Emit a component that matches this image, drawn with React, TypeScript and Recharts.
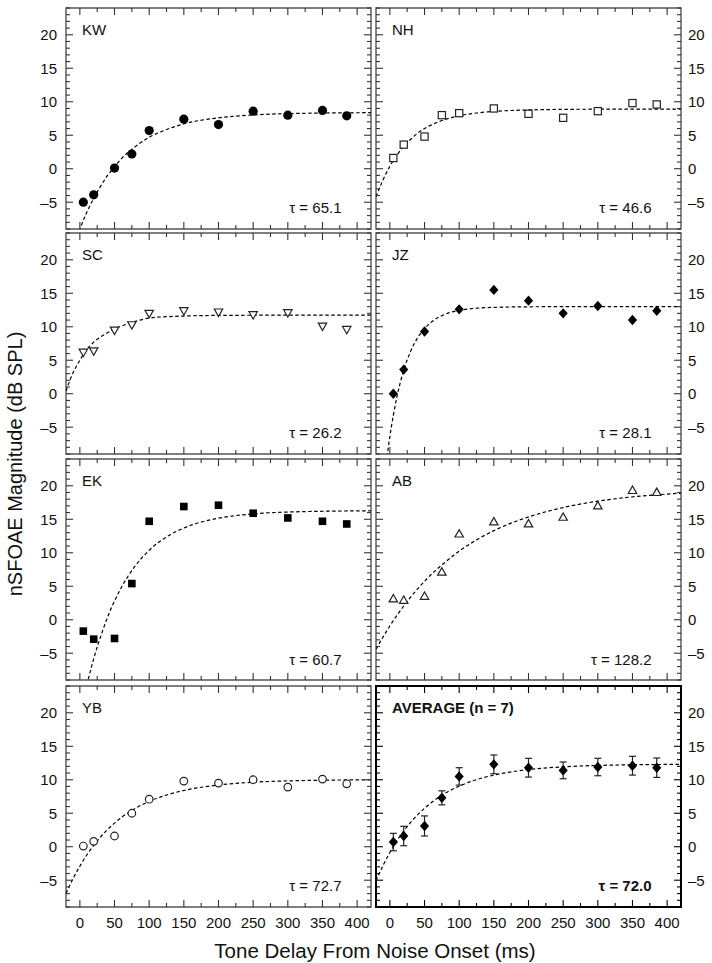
import React from "react";
import {
  ComposedChart,
  Line,
  Scatter,
  XAxis,
  YAxis,
  ErrorBar,
  ReferenceArea,
} from "recharts";

// tone delays (ms) at which nSFOAE was measured
const DELAY_MS = [5, 20, 50, 75, 100, 150, 200, 250, 300, 350, 385];

// magnitudes (dB SPL), one array per subject
const KW = [-5.0, -3.9, 0.1, 2.2, 5.7, 7.4, 6.6, 8.6, 8.0, 8.7, 7.9];
const NH = [1.6, 3.6, 4.8, 8.0, 8.3, 9.0, 8.2, 7.6, 8.6, 9.8, 9.6];
const SC = [6.2, 6.4, 9.5, 10.3, 12.0, 12.4, 12.2, 11.8, 12.1, 10.1, 9.6];
const JZ = [0.0, 3.6, 9.3, 12.6, 15.5, 13.9, 12.0, 13.1, 11.0, 12.4];
const JZ_DELAY_MS = [5, 20, 50, 100, 150, 200, 250, 300, 350, 385];
const EK = [-1.7, -2.9, -2.8, 5.4, 14.7, 16.9, 17.1, 15.9, 15.2, 14.7, 14.3];
const AB = [3.1, 2.9, 3.5, 7.1, 12.8, 14.6, 14.3, 15.3, 17.0, 19.3, 19.0];
const YB = [0.1, 0.8, 1.6, 5.0, 7.1, 9.8, 9.5, 10.0, 8.9, 10.1, 9.4];
const AVG = [0.7, 1.6, 3.1, 7.3, 10.5, 12.3, 11.8, 11.4, 11.9, 12.1, 11.8];
const AVG_ERR = [1.3, 1.45, 1.5, 1.05, 1.3, 1.4, 1.4, 1.25, 1.3, 1.4, 1.45];

// dashed fit curves at these delays
const FIT_MS = [-20, -10, 0, 10, 20, 30, 40, 50, 60, 80, 100, 125, 150, 200, 250, 300, 420];
const KW_FIT = [-15.3, -11.9, -9.0, -6.5, -4.4, -2.6, -1.0, 0.3, 1.5, 3.3, 4.7, 5.85, 6.7, 7.6, 8.03, 8.23, 8.37];
const NH_FIT = [-4.2, -1.7, 0.37, 2.0, 3.35, 4.4, 5.3, 6.0, 6.55, 7.36, 7.9, 8.32, 8.56, 8.78, 8.86, 8.89, 8.9];
const SC_FIT = [0.4, 3.1, 5.0, 6.6, 7.7, 8.5, 9.1, 9.7, 10.1, 10.8, 11.3, 11.5, 11.6, 11.7, 11.72, 11.75, 11.75];
const JZ_FIT = [-26.4, -14.6, -6.4, -0.56, 3.5, 6.35, 8.34, 9.73, 10.71, 11.88, 12.45, 12.77, 12.9, 12.98, 13.0, 13.0, 13.0];
const EK_FIT = [-26.5, -20.0, -14.5, -9.8, -5.8, -2.5, 0.38, 2.8, 4.84, 8.05, 10.36, 12.37, 13.7, 15.16, 15.8, 16.08, 16.27];
const AB_FIT = [-4.4, -2.6, -0.92, 0.62, 2.05, 3.38, 4.6, 5.73, 6.8, 8.6, 10.25, 11.91, 13.3, 15.35, 16.75, 17.7, 18.9];
const YB_FIT = [-7.0, -4.8, -2.9, -1.23, 0.2, 1.47, 2.57, 3.53, 4.37, 5.73, 6.77, 7.72, 8.4, 9.21, 9.63, 9.83, 10.0];
const AVG_FIT = [-5.1, -2.83, -0.86, 0.86, 2.35, 3.64, 4.76, 5.75, 6.6, 8.0, 9.05, 10.02, 10.69, 11.52, 11.93, 12.14, 12.3];

const X_TICKS = [0, 25, 50, 75, 100, 125, 150, 175, 200, 225, 250, 275, 300, 325, 350, 375, 400];
const Y_TICKS = [-9, -8, -7, -6, -5, -4, -3, -2, -1, 0, 1, 2, 3, 4, 5, 6, 7, 8, 9, 10, 11, 12, 13, 14, 15, 16, 17, 18, 19, 20, 21, 22, 23, 24];

const FONT = "'Liberation Sans', Arial, Helvetica, sans-serif";
const W = 305;
const H = 221;
const PAD_L = 45;
const PAD_R = 45;
const PAD_T = 10;
const PAD_B = 35;
const COL_LEFT = [65.5, 375.5];
const ROW_TOP = [7.5, 232.5, 459, 685.5];

type Kind = "dot" | "ring" | "box" | "block" | "down" | "up" | "diamond";

interface PanelDef {
  name: string;
  tau: string;
  col: number;
  row: number;
  xs: number[];
  ys: number[];
  fit: number[];
  kind: Kind;
  err?: number[];
}

const PANELS: PanelDef[] = [
  { name: "KW", tau: "65.1", col: 0, row: 0, xs: DELAY_MS, ys: KW, fit: KW_FIT, kind: "dot" },
  { name: "NH", tau: "46.6", col: 1, row: 0, xs: DELAY_MS, ys: NH, fit: NH_FIT, kind: "box" },
  { name: "SC", tau: "26.2", col: 0, row: 1, xs: DELAY_MS, ys: SC, fit: SC_FIT, kind: "down" },
  { name: "JZ", tau: "28.1", col: 1, row: 1, xs: JZ_DELAY_MS, ys: JZ, fit: JZ_FIT, kind: "diamond" },
  { name: "EK", tau: "60.7", col: 0, row: 2, xs: DELAY_MS, ys: EK, fit: EK_FIT, kind: "block" },
  { name: "AB", tau: "128.2", col: 1, row: 2, xs: DELAY_MS, ys: AB, fit: AB_FIT, kind: "up" },
  { name: "YB", tau: "72.7", col: 0, row: 3, xs: DELAY_MS, ys: YB, fit: YB_FIT, kind: "ring" },
  { name: "AVERAGE (n = 7)", tau: "72.0", col: 1, row: 3, xs: DELAY_MS, ys: AVG, fit: AVG_FIT, kind: "diamond", err: AVG_ERR },
];

function Marker({ cx, cy, kind }: { cx: number; cy: number; kind: Kind }) {
  const stroke = "#222";
  switch (kind) {
    case "dot":
      return <circle cx={cx} cy={cy} r={4.6} fill="#000" />;
    case "ring":
      return <circle cx={cx} cy={cy} r={3.8} fill="#fff" stroke={stroke} strokeWidth={1.2} />;
    case "box":
      return <rect x={cx - 3.6} y={cy - 3.6} width={7.2} height={7.2} fill="#fff" stroke={stroke} strokeWidth={1.2} />;
    case "block":
      return <rect x={cx - 3.8} y={cy - 3.8} width={7.6} height={7.6} fill="#000" />;
    case "down":
      return (
        <polygon
          points={`${cx - 4.2},${cy - 3} ${cx + 4.2},${cy - 3} ${cx},${cy + 4.4}`}
          fill="#fff"
          stroke={stroke}
          strokeWidth={1.2}
        />
      );
    case "up":
      return (
        <polygon
          points={`${cx - 4.2},${cy + 3} ${cx + 4.2},${cy + 3} ${cx},${cy - 4.4}`}
          fill="#fff"
          stroke={stroke}
          strokeWidth={1.2}
        />
      );
    default:
      return (
        <polygon
          points={`${cx},${cy - 5.2} ${cx + 4.6},${cy} ${cx},${cy + 5.2} ${cx - 4.6},${cy}`}
          fill="#000"
        />
      );
  }
}

function Panel({ p }: { p: PanelDef }) {
  const top = PAD_T;
  const bottom = PAD_T + H;
  const left = PAD_L;
  const right = PAD_L + W;
  const isAvg = !!p.err;
  const border = isAvg ? "#000" : "#555";
  const tickColor = isAvg ? "#000" : "#333";
  const showX = p.row === 3;

  const points = p.xs.map((x, i) => ({ x, y: p.ys[i], e: p.err ? p.err[i] : 0 }));
  const curve = FIT_MS.map((x, i) => ({ x, y: p.fit[i] }));

  const xTick = (t: any) => {
    const v = t.payload.value;
    const major = v % 50 === 0;
    const len = major ? 7 : 4;
    return (
      <g>
        <line x1={t.x} x2={t.x} y1={bottom} y2={bottom - len} stroke={tickColor} strokeWidth={1.1} />
        <line x1={t.x} x2={t.x} y1={top} y2={top + len} stroke={tickColor} strokeWidth={1.1} />
        {showX && major && (
          <text x={t.x} y={bottom + 21} textAnchor="middle" fontSize={15} fontFamily={FONT} fill="#111">
            {v}
          </text>
        )}
      </g>
    );
  };

  const yTick = (t: any) => {
    const v = t.payload.value;
    const major = v % 5 === 0;
    const len = major ? 7 : 4;
    const label = v < 0 ? `\u2013${-v}` : `${v}`;
    return (
      <g>
        <line x1={left} x2={left + len} y1={t.y} y2={t.y} stroke={tickColor} strokeWidth={1.1} />
        <line x1={right} x2={right - len} y1={t.y} y2={t.y} stroke={tickColor} strokeWidth={1.1} />
        {major && (
          <text
            x={p.col === 0 ? left - 9 : right + 7}
            y={t.y + 5.3}
            textAnchor={p.col === 0 ? "end" : "start"}
            fontSize={15}
            fontFamily={FONT}
            fill="#111"
          >
            {label}
          </text>
        )}
      </g>
    );
  };

  return (
    <div
      style={{
        position: "absolute",
        left: COL_LEFT[p.col] - PAD_L,
        top: ROW_TOP[p.row] - PAD_T,
      }}
    >
      <ComposedChart
        width={W + PAD_L + PAD_R}
        height={H + PAD_T + PAD_B}
        margin={{ top: PAD_T, right: PAD_R, bottom: 0, left: 0 }}
      >
        <XAxis
          xAxisId="x"
          type="number"
          dataKey="x"
          domain={[-20, 420]}
          allowDataOverflow
          ticks={X_TICKS}
          interval={0}
          height={PAD_B}
          tickLine={false}
          axisLine={false}
          tick={xTick}
        />
        <YAxis
          yAxisId="y"
          type="number"
          dataKey="y"
          domain={[-9, 24]}
          allowDataOverflow
          ticks={Y_TICKS}
          interval={0}
          width={PAD_L}
          tickLine={false}
          axisLine={false}
          tick={yTick}
        />
        <ReferenceArea
          xAxisId="x"
          yAxisId="y"
          x1={-20}
          x2={420}
          y1={-9}
          y2={24}
          fill="none"
          fillOpacity={0}
          stroke={border}
          strokeWidth={isAvg ? 2 : 1.4}
          ifOverflow="visible"
        />
        <Line
          xAxisId="x"
          yAxisId="y"
          data={curve}
          dataKey="y"
          type="monotone"
          dot={false}
          stroke="#000"
          strokeWidth={1.2}
          strokeDasharray="3.5 2.5"
          isAnimationActive={false}
        />
        <Scatter
          xAxisId="x"
          yAxisId="y"
          data={points}
          isAnimationActive={false}
          shape={(s: any) => <Marker cx={s.cx} cy={s.cy} kind={p.kind} />}
        >
          {isAvg && (
            <ErrorBar dataKey="e" direction="y" width={3.5} stroke="#222" strokeWidth={1.2} isAnimationActive={false} />
          )}
        </Scatter>
      </ComposedChart>
    </div>
  );
}

export default function App() {
  return (
    <div
      style={{
        position: "absolute",
        left: 0,
        top: 0,
        width: 712,
        height: 963,
        background: "#fff",
        fontFamily: FONT,
      }}
    >
      {PANELS.map((p) => (
        <Panel key={p.name} p={p} />
      ))}
      <svg
        width={712}
        height={963}
        style={{ position: "absolute", left: 0, top: 0, pointerEvents: "none" }}
      >
        {PANELS.map((p) => {
          const isAvg = !!p.err;
          const l = COL_LEFT[p.col];
          const t = ROW_TOP[p.row];
          return (
            <g key={p.name} fontFamily={FONT} fontSize={15} fill="#111" fontWeight={isAvg ? "bold" : "normal"}>
              <text x={l + 16.5} y={t + 27}>
                {p.name}
              </text>
              <text x={l + W - 29} y={t + H - 15.5} textAnchor="end">
                {`\u03c4 = ${p.tau}`}
              </text>
            </g>
          );
        })}
        <text
          transform="rotate(-90)"
          x={-464}
          y={22}
          textAnchor="middle"
          fontSize={20}
          fontFamily={FONT}
          fill="#111"
        >
          nSFOAE Magnitude (dB SPL)
        </text>
        <text x={375} y={958} textAnchor="middle" fontSize={20.5} fontFamily={FONT} fill="#111">
          Tone Delay From Noise Onset (ms)
        </text>
      </svg>
    </div>
  );
}
